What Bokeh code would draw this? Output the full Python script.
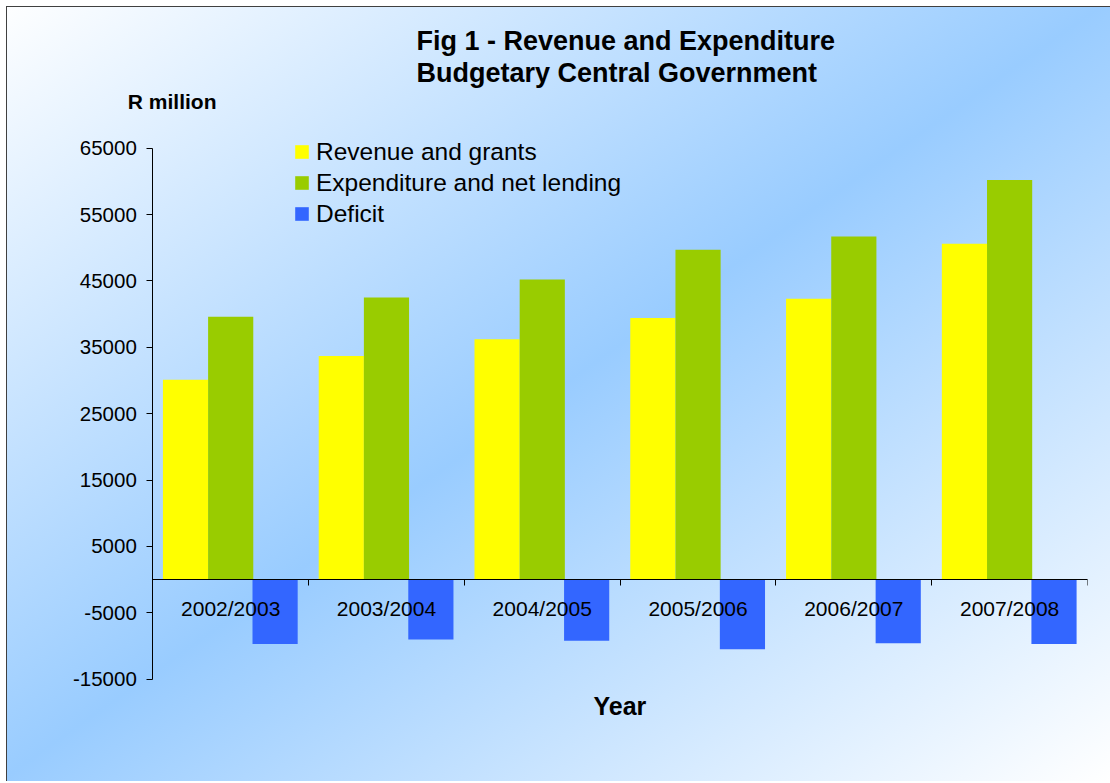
from bokeh.plotting import figure
from bokeh.models import (ColumnDataSource, Range1d, LinearAxis,
                          FixedTicker, Title, Label)
from bokeh.transform import dodge
from bokeh.embed import file_html
from bokeh.resources import INLINE

# ---- data ----
years = ["2002/2003", "2003/2004", "2004/2005", "2005/2006", "2006/2007", "2007/2008"]
revenue = [30100, 33700, 36200, 39400, 42300, 50600]
expenditure = [39600, 42500, 45200, 49700, 51700, 60200]
deficit = [-9700, -9000, -9200, -10500, -9600, -9700]
y_ticks = [-15000, -5000, 5000, 15000, 25000, 35000, 45000, 55000, 65000]
series_names = ["Revenue and grants", "Expenditure and net lending", "Deficit"]

FONT = "Liberation Sans"
n = len(years)
centers = [i + 0.5 for i in range(n)]          # category slot centres
boundaries = [i + 1 for i in range(n)]         # category slot edges
Y_LO, Y_HI = y_ticks[0], y_ticks[-1]

# ---- layout geometry (pixels) ----
W, H = 1110, 781
FRAME_L, FRAME_R, FRAME_T, FRAME_B = 60, 1087, 88, 692
AXIS_X_PX, AXIS_TOP_PX, AXIS_BOT_PX = 152.3, 147.7, 678.7
x_lo = -(AXIS_X_PX - FRAME_L) * n / (FRAME_R - AXIS_X_PX)
units_per_px = (Y_HI - Y_LO) / (AXIS_BOT_PX - AXIS_TOP_PX)
y_hi = Y_HI + (AXIS_TOP_PX - FRAME_T) * units_per_px
y_lo = Y_LO - (FRAME_B - AXIS_BOT_PX) * units_per_px

src = ColumnDataSource(dict(pos=centers, year=years, rev=revenue, exp=expenditure, dfc=deficit))

p = figure(
    x_range=Range1d(x_lo, n),
    y_range=Range1d(y_lo, y_hi),
    width=W, height=H,
    output_backend="svg", toolbar_location=None,
    min_border_left=FRAME_L, min_border_right=W - FRAME_R,
    min_border_top=FRAME_T, min_border_bottom=H - FRAME_B,
)

p.background_fill_color = None
p.border_fill_color = None
p.outline_line_color = None
p.styles = {
    "background": "linear-gradient(to bottom right, #ffffff 0%, #99ccff 50%, #ffffff 100%)",
    "box-shadow": "inset 6px 6px 0 #ffffff, inset 7px 7px 0 #404040",
}
p.xgrid.visible = False
p.ygrid.visible = False

# ---- title ----
p.title.text = "Fig 1 - Revenue and Expenditure\nBudgetary Central Government"
p.title.align = "left"
p.title.offset = 356
p.title.text_font = FONT
p.title.text_font_size = "27px"
p.title.text_font_style = "bold"
p.title.text_color = "black"
p.title.text_line_height = 1.09
p.title.standoff = 0

# ---- y axis (crossing at x = 0) ----
ya = p.yaxis[0]
ya.fixed_location = 0
ya.bounds = (Y_LO, Y_HI)
ya.ticker = FixedTicker(ticks=y_ticks)
ya.major_label_overrides = {t: str(t) for t in y_ticks}
ya.major_label_text_font = FONT
ya.major_label_text_font_size = "20.5px"
ya.major_label_text_color = "black"
ya.major_tick_out = 6
ya.major_tick_in = 0
ya.minor_tick_out = 0
ya.minor_tick_in = 0
ya.axis_line_color = "black"
ya.major_tick_line_color = "black"
ya.major_label_standoff = 10

# ---- x axis (category labels, crossing at y = 0) ----
xa = p.xaxis[0]
xa.fixed_location = 0
xa.bounds = (0, n)
xa.ticker = FixedTicker(ticks=centers)
xa.major_label_overrides = {c: y for c, y in zip(centers, years)}
xa.major_tick_out = 0
xa.major_tick_in = 0
xa.minor_tick_out = 0
xa.minor_tick_in = 0
xa.axis_line_color = "black"
xa.major_label_text_font = FONT
xa.major_label_text_font_size = "21px"
xa.major_label_text_color = "black"
xa.major_label_standoff = 17

# boundary ticks between categories
tick_axis = LinearAxis(
    ticker=FixedTicker(ticks=boundaries),
    fixed_location=0,
    bounds=(0, n),
    major_label_overrides={b: "" for b in boundaries},
    major_tick_out=6, major_tick_in=0,
    minor_tick_out=0, minor_tick_in=0,
    axis_line_color="black", major_tick_line_color="black",
)
p.add_layout(tick_axis, "below")

# ---- bars ----
BW = 0.29
p.vbar(x=dodge("pos", -0.29), top="rev", width=BW, source=src,
       fill_color="#FFFF00", line_color=None, legend_label=series_names[0])
p.vbar(x=dodge("pos", 0.0), top="exp", width=BW, source=src,
       fill_color="#99CC00", line_color=None, legend_label=series_names[1])
p.vbar(x=dodge("pos", 0.285), top="dfc", bottom=0, width=BW, source=src,
       fill_color="#3366FF", line_color=None, legend_label=series_names[2])

# ---- legend ----
lg = p.legend[0]
lg.location = (233, 450 + (FRAME_B - 679))
lg.padding = 0
lg.margin = 0
lg.spacing = 0
lg.border_line_color = None
lg.background_fill_alpha = 0
lg.glyph_width = 17
lg.glyph_height = 17
lg.label_standoff = 6
lg.label_height = 31
lg.label_text_font = FONT
lg.label_text_font_size = "24.5px"
lg.label_text_color = "black"
lg.label_text_baseline = "middle"

# ---- "R million" and "Year" ----
p.add_layout(Label(x=0, y=72000, x_offset=-25, text="R million", text_font=FONT,
                   text_font_size="21px", text_font_style="bold",
                   text_align="left", text_baseline="middle", text_color="black"))
year_title = Title(text="Year", align="left", offset=533, text_font=FONT,
                   text_font_size="25px", text_font_style="bold",
                   text_color="black", standoff=0)
try:
    year_title.standoff = -5
except Exception:
    year_title.standoff = 0
p.add_layout(year_title, "below")

open("out.html", "w").write(file_html(p, INLINE))
